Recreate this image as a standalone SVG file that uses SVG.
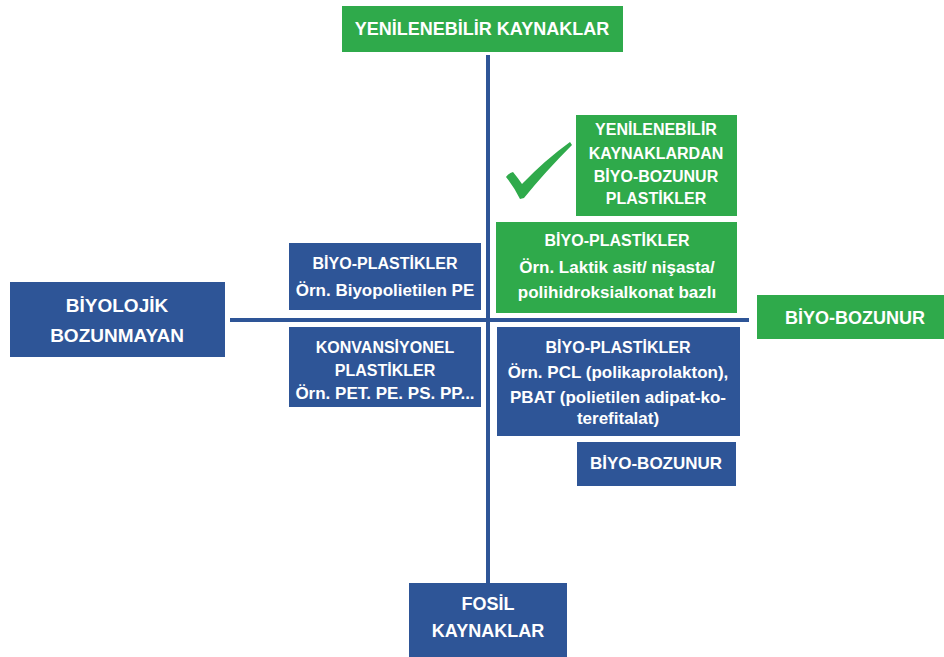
<svg xmlns="http://www.w3.org/2000/svg" width="944" height="657" viewBox="0 0 944 657">
<style>
.b{fill:#2E5597}
.g{fill:#2FAA4B}
text{font-family:"Liberation Sans",Arial,sans-serif;font-weight:bold;fill:#fff;text-anchor:middle;font-size:16px}
.m{font-size:17px}
.l{font-size:18px}
.ln{stroke:#2E5597;stroke-width:4;fill:none}
</style>
<rect width="944" height="657" fill="#fff"/>
<g id="connectors">
<line class="ln" x1="488" y1="55" x2="488" y2="584"/>
<line class="ln" x1="230" y1="320" x2="749" y2="320"/>
</g>
<g id="yenilenebilir">
<rect class="g" x="342" y="6" width="281" height="46"/>
<text x="482" y="35" class="l">YENİLENEBİLİR KAYNAKLAR</text>
</g>
<g id="fosil">
<rect class="b" x="409" y="583" width="158" height="74"/>
<text x="488" y="610" class="l">FOSİL</text>
<text x="488" y="637" class="l">KAYNAKLAR</text>
</g>
<g id="biyolojik">
<rect class="b" x="10" y="282" width="215" height="75"/>
<text x="117" y="312" style="font-size:19px">BİYOLOJİK</text>
<text x="117" y="342" style="font-size:19px">BOZUNMAYAN</text>
</g>
<g id="biyobozunur-right">
<rect class="g" x="757" y="295" width="187" height="44"/>
<text x="855" y="324" class="l">BİYO-BOZUNUR</text>
</g>
<g id="check">
<path d="M506,177 Q509,173 513,172 Q518,178 522,184 Q545,160 570,142 L572,145 Q545,172 524,198 L520,199 Q514,187 506,177 Z" fill="#2FAA4B"/>
</g>
<g id="yenilenebilir-biyo">
<rect class="g" x="576" y="115" width="161" height="101"/>
<text x="656" y="135">YENİLENEBİLİR</text>
<text x="656" y="159">KAYNAKLARDAN</text>
<text x="656" y="182">BİYO-BOZUNUR</text>
<text x="656" y="204">PLASTİKLER</text>
</g>
<g id="biyo-plastik-pla">
<rect class="g" x="496" y="222" width="241" height="91"/>
<text x="617" y="246">BİYO-PLASTİKLER</text>
<text x="617" y="273" class="m">Örn. Laktik asit/ nişasta/</text>
<text x="617" y="298" class="m">polihidroksialkonat bazlı</text>
</g>
<g id="biyo-plastik-pe">
<rect class="b" x="289" y="243" width="192" height="67"/>
<text x="385" y="269">BİYO-PLASTİKLER</text>
<text x="385" y="296" class="m">Örn. Biyopolietilen PE</text>
</g>
<g id="konvansiyonel">
<rect class="b" x="289" y="327" width="192" height="80"/>
<text x="385" y="353">KONVANSİYONEL</text>
<text x="385" y="376">PLASTİKLER</text>
<text x="385" y="399" class="m">Örn. PET. PE. PS. PP...</text>
</g>
<g id="biyo-plastik-pcl">
<rect class="b" x="497" y="327" width="243" height="109"/>
<text x="618" y="353">BİYO-PLASTİKLER</text>
<text x="618" y="378" class="m">Örn. PCL (polikaprolakton),</text>
<text x="618" y="403" class="m">PBAT (polietilen adipat-ko-</text>
<text x="618" y="424" class="m">terefitalat)</text>
</g>
<g id="biyobozunur-blue">
<rect class="b" x="577" y="442" width="159" height="44"/>
<text x="656" y="469" class="m">BİYO-BOZUNUR</text>
</g>
</svg>
